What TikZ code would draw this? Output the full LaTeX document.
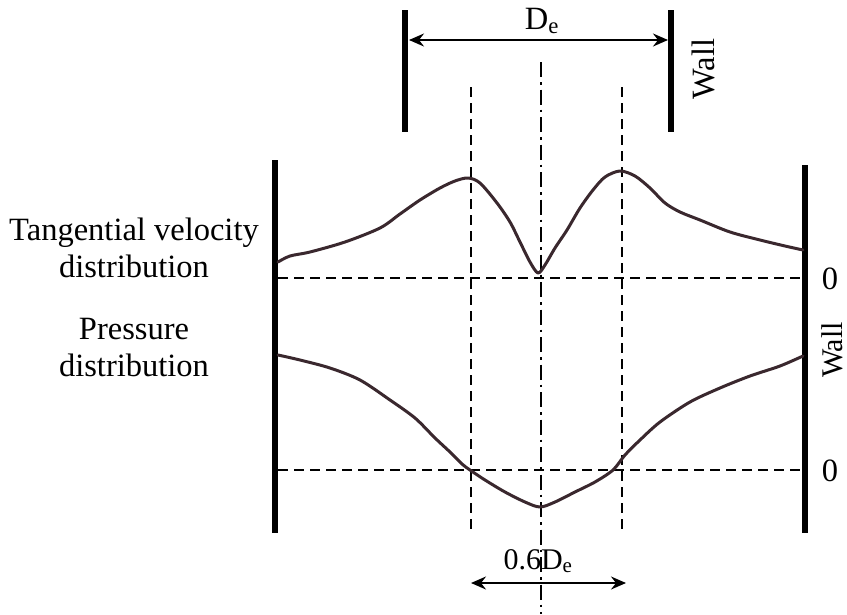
\documentclass[tikz,border=0pt]{standalone}
\usepackage{fontspec}
\setmainfont{Liberation Serif}
\usetikzlibrary{arrows.meta}
\definecolor{curvecol}{RGB}{58,40,46}
\tikzset{
  x=1pt, y=-1pt,
  wallline/.style={line width=6.5pt, black},
  zeroline/.style={line width=2.2pt, dash pattern=on 10pt off 6pt},
  axisline/.style={line width=2.2pt, dash pattern=on 15pt off 5pt on 2.5pt off 5pt},
  curve/.style={line width=3pt, curvecol, line join=round, line cap=round},
  dimarrow/.style={line width=1.8pt, {Stealth[length=15pt,width=13pt,inset=5pt]}-{Stealth[length=15pt,width=13pt,inset=5pt]}},
  lbl/.style={font=\fontsize{30}{35}\selectfont, inner sep=0pt, align=center},
  sidelbl/.style={font=\fontsize{32.5}{37}\selectfont, inner sep=0pt, align=center},
}
\begin{document}
\begin{tikzpicture}
\useasboundingbox (0,0) rectangle (847,614);
% coordinates
\coordinate (twlT) at (405,10);  \coordinate (twlB) at (405,132);
\coordinate (twrT) at (671,10);  \coordinate (twrB) at (671,132);
\coordinate (bwlT) at (275,160); \coordinate (bwlB) at (275,533);
\coordinate (bwrT) at (805,165); \coordinate (bwrB) at (805,533);
\coordinate (deL) at (409,40);   \coordinate (deR) at (668,40);
\coordinate (cT) at (541,62);    \coordinate (cB) at (541,614);
\coordinate (dlT) at (471,87);   \coordinate (dlB) at (471,532);
\coordinate (drT) at (622,87);   \coordinate (drB) at (622,532);
\coordinate (z1L) at (278,278);  \coordinate (z1R) at (803,278);
\coordinate (z2L) at (278,470);  \coordinate (z2R) at (803,470);
\coordinate (sdL) at (471,583);  \coordinate (sdR) at (626,583);
% walls
\draw[wallline] (twlT) -- (twlB);
\draw[wallline] (twrT) -- (twrB);
\draw[wallline] (bwlT) -- (bwlB);
\draw[wallline] (bwrT) -- (bwrB);
% guide lines
\draw[axisline] (cT) -- (cB);
\draw[zeroline] (dlT) -- (dlB);
\draw[zeroline] (drT) -- (drB);
\draw[zeroline] (z1L) -- (z1R);
\draw[zeroline] (z2L) -- (z2R);
% dimension arrows
\draw[dimarrow] (deL) -- (deR);
\draw[dimarrow] (sdL) -- (sdR);
% curves
\draw[curve] plot[smooth, tension=0.5] coordinates {
 (278,262) (290,256) (310,252) (345,242) (380,228) (400,214) (420,200)
 (440,188) (455,181) (468,178) (480,183) (497,203) (510,222) (520,242)
 (530,262) (538,273) (545,265) (555,248) (567,230) (580,208) (593,190)
 (605,177) (620,171) (635,176) (650,188) (665,203) (680,212) (700,220)
 (730,232) (760,240) (785,246) (803,250)};
\draw[curve] plot[smooth, tension=0.5] coordinates {
 (278,355) (300,360) (330,368) (360,380) (390,400) (415,418) (435,438)
 (450,452) (462,464) (470,470) (485,480) (505,492) (525,502) (540,507)
 (555,502) (575,492) (595,482) (613,470) (625,455) (640,440) (660,422)
 (690,402) (720,388) (750,376) (780,366) (803,356)};
% labels
\node[sidelbl] (de) at (542,21) {D\textsubscript{e}};
\node[lbl] (sixde) at (538,561) {0.6D\textsubscript{e}};
\node[sidelbl, rotate=90] (wall1) at (703,69) {Wall};
\node[lbl, rotate=90] (wall2) at (832,350) {Wall};
\node[sidelbl] (zero1) at (830,279) {0};
\node[sidelbl] (zero2) at (830,471) {0};
\node[sidelbl] (tv) at (134,248) {Tangential velocity\\distribution};
\node[sidelbl] (pd) at (134,348) {Pressure\\distribution};
\end{tikzpicture}
\end{document}
